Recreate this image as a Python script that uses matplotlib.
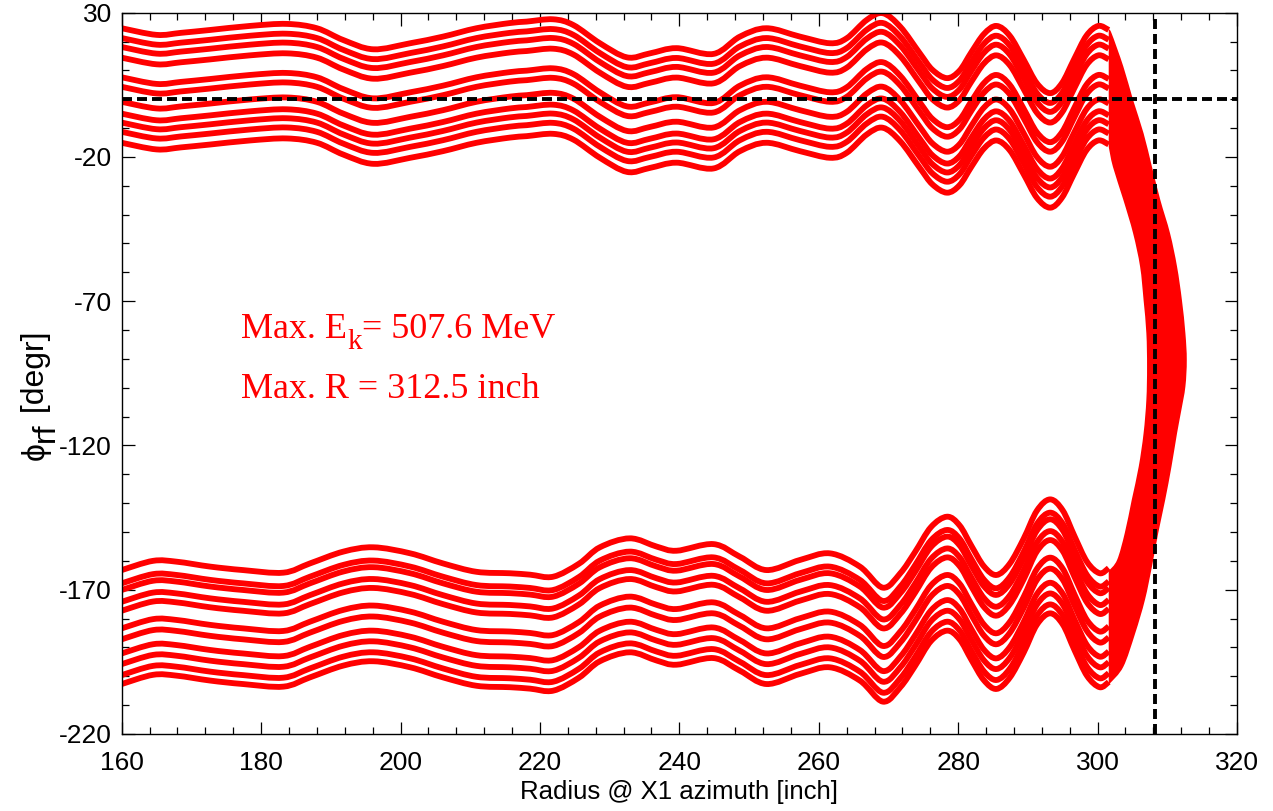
import matplotlib
matplotlib.use("Agg")
import matplotlib.pyplot as plt
from matplotlib.path import Path
from matplotlib.patches import PathPatch
from matplotlib.transforms import IdentityTransform
from matplotlib.ticker import MultipleLocator, FixedLocator

plt.rcParams["font.family"] = ["Liberation Sans", "DejaVu Sans"]
plt.rcParams["axes.unicode_minus"] = False
plt.rcParams["lines.scale_dashes"] = False

# Upper bunch: reference (highest-phase) turn track, radius [inch] vs phase [deg]
upper_r = [160.0, 165.0, 168.5, 172.7, 178.4, 183.7, 188.0, 191.8, 196.1, 201.4,
           206.1, 210.9, 215.7, 218.1, 221.9, 224.8, 228.6, 232.5, 235.8, 239.6,
           244.9, 248.7, 252.5, 257.3, 261.6, 264.0, 266.9, 269.2, 271.7, 274.5,
           276.3, 278.4, 280.2, 281.9, 283.7, 285.5, 287.4, 289.4, 291.3, 293.2,
           294.9, 296.6, 298.4, 300.1, 301.6]
upper_phase = [24.6, 22.3, 23.0, 24.0, 25.4, 26.1, 24.6, 20.5, 17.3, 19.4,
               21.7, 24.6, 26.4, 26.9, 27.7, 25.7, 19.4, 14.5, 15.9, 17.7,
               15.7, 21.7, 24.6, 21.7, 19.4, 21.1, 27.5, 29.8, 25.1, 15.9,
               10.2, 7.3, 9.9, 16.3, 22.6, 25.4, 22.0, 13.7, 5.5, 2.1,
               5.6, 13.7, 22.0, 25.4, 24.0]
# phase offset of each particle relative to the reference track
upper_offsets = [0.0, -3.4, -6.5, -10.2, -17.0, -20.3, -25.5, -29.6, -32.7, -35.9, -39.7]

# Lower bunch: reference (highest) track
lower_r = [160.0, 164.5, 167.9, 172.7, 177.4, 183.2, 187.0, 191.8, 196.1, 201.4,
           206.1, 210.9, 215.7, 218.6, 221.9, 225.6, 228.6, 232.9, 236.8, 239.6,
           244.9, 248.7, 252.5, 257.3, 261.6, 265.9, 269.2, 271.7, 273.8, 276.1,
           278.4, 280.2, 281.9, 283.7, 285.5, 287.4, 289.4, 291.3, 293.2, 295.0,
           296.7, 298.5, 300.3, 301.6]
lower_phase = [-163.2, -160.0, -160.3, -162.0, -163.2, -164.1, -160.9, -156.8, -155.3, -157.4,
               -160.9, -163.8, -164.3, -164.8, -165.5, -161.0, -155.3, -152.2, -155.1, -156.5,
               -154.2, -158.6, -163.2, -159.7, -157.4, -162.0, -169.3, -164.3, -157.0, -148.3,
               -144.7, -147.7, -154.8, -161.9, -164.9, -161.0, -152.3, -142.6, -138.7, -142.5,
               -151.5, -160.4, -164.3, -162.5]
lower_offsets = [0.0, -4.6, -6.9, -11.0, -14.1, -20.2, -24.0, -28.9, -32.6, -36.4, -39.5]

# Extraction region where all tracks pile up: outer and inner edges of the band
band_outer_r = [301.6, 302.0, 303.7, 305.1, 306.6, 307.8, 309.0, 310.4, 311.4, 312.1,
                312.6, 312.8, 312.6, 312.0, 311.4, 310.6, 309.7, 308.7, 307.8, 306.8,
                305.4, 303.7, 301.8, 301.6]
band_outer_phase = [24.0, 22.9, 11.3, -0.3, -11.8, -23.4, -34.9, -46.5, -58.0, -69.6,
                    -81.1, -90.4, -99.6, -108.0, -115.8, -127.4, -138.9, -150.4, -162.0, -173.5,
                    -185.1, -196.7, -202.4, -202.6]
band_inner_r = [301.6, 302.8, 303.9, 304.9, 305.9, 306.6, 307.0, 307.1, 307.0, 306.6,
                306.1, 305.1, 303.7, 302.2, 301.6]
band_inner_phase = [-163.5, -159.7, -150.4, -138.9, -127.4, -115.8, -104.2, -92.7, -81.1, -69.6,
                    -58.0, -46.5, -34.9, -23.4, -16.5]

ref_phase = 0.0
ref_radius = 308.3
max_energy = 507.6
max_radius = 312.5

RED = "#ff0000"


def smooth_segments(xs, ys):
    """Cubic Bezier segments (Catmull-Rom tangents) through the given points."""
    pts = list(zip(xs, ys))
    n = len(pts)
    verts, codes = [], []
    for i in range(n - 1):
        p0 = pts[max(i - 1, 0)]
        p1 = pts[i]
        p2 = pts[i + 1]
        p3 = pts[min(i + 2, n - 1)]
        c1 = (p1[0] + (p2[0] - p0[0]) / 6.0, p1[1] + (p2[1] - p0[1]) / 6.0)
        c2 = (p2[0] - (p3[0] - p1[0]) / 6.0, p2[1] - (p3[1] - p1[1]) / 6.0)
        verts += [c1, c2, p2]
        codes += [Path.CURVE4] * 3
    return pts[0], verts, codes


def smooth_line(ax, xs, ys, **kw):
    start, verts, codes = smooth_segments(xs, ys)
    path = Path([start] + verts, [Path.MOVETO] + codes)
    ax.add_patch(PathPatch(path, fill=False, **kw))


fig = plt.figure(figsize=(12.73, 8.11), dpi=100)
ax = fig.add_axes([0.0956, 0.0950, 0.8761, 0.8894])

lw = 4.2
for off in upper_offsets:
    smooth_line(ax, upper_r, [p + off for p in upper_phase], edgecolor=RED, lw=lw,
                capstyle="butt", joinstyle="round", zorder=2)
for off in lower_offsets:
    smooth_line(ax, lower_r, [p + off for p in lower_phase], edgecolor=RED, lw=lw,
                capstyle="butt", joinstyle="round", zorder=2)

# dense band
s_out, v_out, c_out = smooth_segments(band_outer_r, band_outer_phase)
s_in, v_in, c_in = smooth_segments(band_inner_r, band_inner_phase)
band_verts = [s_out] + v_out + [s_in] + v_in + [s_out]
band_codes = [Path.MOVETO] + c_out + [Path.LINETO] + c_in + [Path.CLOSEPOLY]
ax.add_patch(PathPatch(Path(band_verts, band_codes), facecolor=RED, edgecolor="none",
                       lw=0, zorder=2))

dash = (0, (7.2, 3.6))
ax.axhline(ref_phase, color="black", lw=2.8, ls=dash, zorder=3)
ax.axvline(ref_radius, color="black", lw=2.8, ls=dash, zorder=3)

ax.set_xlim(160, 320)
ax.set_ylim(-220, 30)
ax.xaxis.set_major_locator(MultipleLocator(20))
ax.xaxis.set_minor_locator(MultipleLocator(4))
ax.yaxis.set_major_locator(FixedLocator([30, -20, -70, -120, -170, -220]))
ax.yaxis.set_minor_locator(MultipleLocator(10))
ax.tick_params(which="both", direction="in", top=True, right=True, width=0.9,
               labelsize=19)
ax.tick_params(which="major", length=9)
ax.tick_params(which="minor", length=4.8)
ax.tick_params(axis="x", pad=12)
ax.tick_params(axis="y", pad=7)
for s in ax.spines.values():
    s.set_linewidth(1.0)

ax.set_xlabel("Radius @ X1 azimuth [inch]", fontsize=18.5, labelpad=4)

renderer = fig.canvas.get_renderer()
pix = IdentityTransform()


def text_runs(runs, x0, y0, vertical=False, **kw):
    """Write consecutive pieces of text; each run is (text, size, drop_px)."""
    pos = x0 if not vertical else y0
    for s, size, drop in runs:
        if vertical:
            t = fig.text(x0 + drop, pos, s, transform=pix, rotation=90,
                         rotation_mode="anchor", ha="left", va="baseline",
                         fontsize=size, **kw)
            pos += t.get_window_extent(renderer).height
        else:
            t = fig.text(pos, y0 - drop, s, transform=pix, ha="left",
                         va="baseline", fontsize=size, **kw)
            pos += t.get_window_extent(renderer).width


H = 811
text_runs([("ϕ", 23, 0), ("rf", 23, 10), (" [degr]", 23, 0)], 44, H - 460, vertical=True)

serif = dict(color=RED, family="Liberation Serif")
text_runs([("Max. E", 26, 0), ("k", 21, 11), (f"= {max_energy:.1f} MeV", 26, 0)],
          241, H - 338, **serif)
text_runs([(f"Max. R = {max_radius:.1f} inch", 26, 0)], 241, H - 398, **serif)

fig.savefig("out.png", dpi=100)
